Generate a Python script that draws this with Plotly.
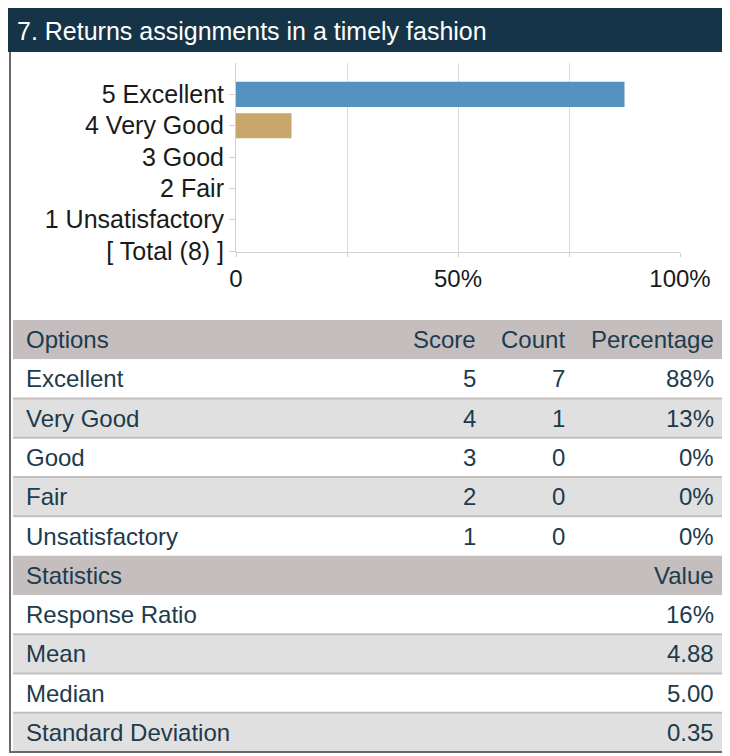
import plotly.graph_objects as go

# ---- data ----
title_text = "7. Returns assignments in a timely fashion"
axis_categories = ["[ Total (8) ]", "1 Unsatisfactory", "2 Fair", "3 Good", "4 Very Good", "5 Excellent"]
bar_categories = ["5 Excellent", "4 Very Good", "3 Good", "2 Fair", "1 Unsatisfactory"]
options = ["Excellent", "Very Good", "Good", "Fair", "Unsatisfactory"]
scores = [5, 4, 3, 2, 1]
counts = [7, 1, 0, 0, 0]
percent_labels = ["88%", "13%", "0%", "0%", "0%"]
bar_colors = ["#5592bf", "#c9a66b", "#8fae72", "#b56b6b", "#8a7fb0"]
x_tickvals = [0, 0.25, 0.5, 0.75, 1.0]
x_ticktext = ["0", "", "50%", "", "100%"]
table_header = ["Options", "Score", "Count", "Percentage"]
stats_header = ["Statistics", "Value"]
stat_names = ["Response Ratio", "Mean", "Median", "Standard Deviation"]
stat_values = ["16%", "4.88", "5.00", "0.35"]

# page has an 8px body margin: figure starts at page pixel (8, 8) and runs to the window edge
OFF = 8
W, H = 730 - OFF, 756 - OFF
total = sum(counts)
shares = [c / total for c in counts]

FONT = "Arial, Liberation Sans, sans-serif"
FS = 24
FS_AX = 25
TXT = "#1c3b4d"
NAVY = "#163447"
BORDER = "#6f6767"
HEAD_BG = "#c4bebe"
ALT_BG = "#e1e0e0"
SEP = "#c4bebe"


def X(px):
    return (px - OFF) / W


def Y(py):
    return 1 - (py - OFF) / H


fig = go.Figure()
fig.add_trace(go.Bar(
    y=bar_categories, x=shares, orientation="h",
    marker=dict(color=bar_colors, line=dict(width=0)),
    width=0.8, hoverinfo="skip", showlegend=False,
))

shapes = []
annotations = []


def rect(x0, y0, x1, y1, color):
    shapes.append(dict(type="rect", xref="paper", yref="paper", x0=X(x0), x1=X(x1),
                       y0=Y(y1), y1=Y(y0), fillcolor=color, line=dict(width=0), layer="below"))


def text(s, px, py, anchor, color=TXT, size=FS):
    annotations.append(dict(text=s, xref="paper", yref="paper", x=X(px), y=Y(py),
                            xanchor=anchor, yanchor="middle", showarrow=False,
                            font=dict(family=FONT, size=size, color=color)))


# frame and title bar
rect(8, 8, 730, 52, NAVY)
text(title_text, 15, 31, "left", color="white", size=25)
rect(9, 52, 11, 753, BORDER)

# table
T_X0, T_X1 = 13, 728
T_TOP, T_BOT = 320, 752
n_rows = 2 + len(options) + len(stat_names)
row_h = (T_BOT - T_TOP) / n_rows
col_left = 24
col_right = [478, 567, 716]

rows = []
rows.append(("head", table_header))
for i, o in enumerate(options):
    rows.append(("data", [o, str(scores[i]), str(counts[i]), percent_labels[i]]))
rows.append(("head2", stats_header))
for n, v in zip(stat_names, stat_values):
    rows.append(("stat", [n, v]))

alt = 0
prev_kind = None
for r, (kind, cells) in enumerate(rows):
    top = T_TOP + r * row_h
    bot = top + row_h
    if kind in ("head", "head2"):
        rect(T_X0, top, T_X1, bot, HEAD_BG)
        alt = 0
    else:
        rect(T_X0, top, T_X1, bot, "white" if alt % 2 == 0 else ALT_BG)
        alt += 1
        if prev_kind in ("data", "stat"):
            rect(T_X0, top - 1, T_X1, top + 1, SEP)
    prev_kind = kind
    cy = (top + bot) / 2
    text(cells[0], col_left, cy, "left")
    if len(cells) == 4:
        for c, xr in zip(cells[1:], col_right):
            text(c, xr, cy, "right")
    else:
        text(cells[1], col_right[-1], cy, "right")

rect(9, 751, T_X1, 753, BORDER)

fig.update_layout(
    width=W, height=H,
    margin=dict(l=0, r=0, t=0, b=0, autoexpand=False),
    paper_bgcolor="white", plot_bgcolor="white",
    font=dict(family=FONT, size=FS, color="#1a1a1a"),
    shapes=shapes, annotations=annotations,
    xaxis=dict(
        domain=[X(236), X(680)], range=[0, 1],
        tickvals=x_tickvals, ticktext=x_ticktext,
        showgrid=True, gridcolor="#dcdcdc", gridwidth=1,
        zeroline=False, showline=True, linecolor="#d0d0d0", linewidth=1,
        ticks="outside", ticklen=4, tickcolor="#d0d0d0",
        ticklabelstandoff=1, automargin=False,
        tickfont=dict(family=FONT, size=FS, color="#1a1a1a"),
        fixedrange=True,
    ),
    yaxis=dict(
        domain=[Y(252), Y(63)],
        type="category", categoryorder="array", categoryarray=axis_categories,
        range=[-0.03, 6],
        showgrid=False, zeroline=False,
        showline=True, linecolor="#d0d0d0", linewidth=1,
        ticks="outside", ticklen=6, tickcolor="#d0d0d0", automargin=False,
        tickfont=dict(family=FONT, size=FS_AX, color="#1a1a1a"),
        fixedrange=True,
    ),
)

fig.write_html("out.html")
